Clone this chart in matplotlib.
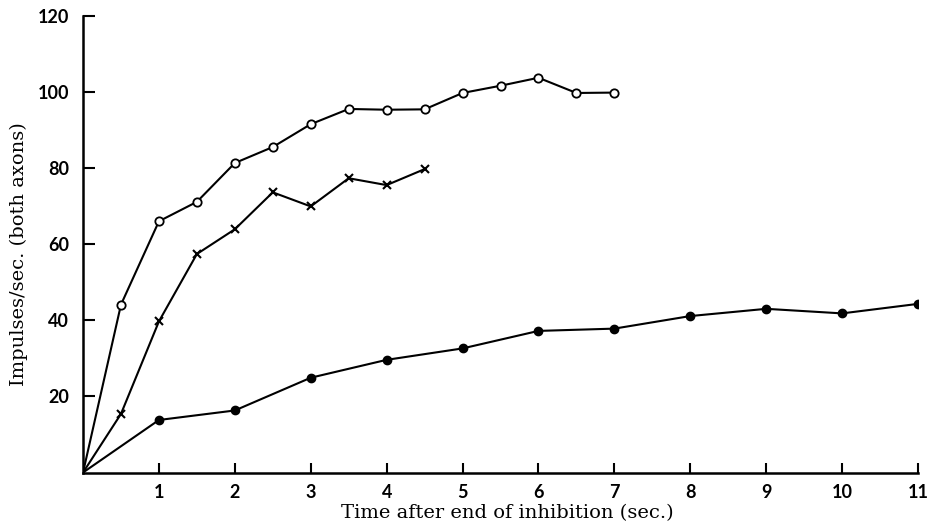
import matplotlib
matplotlib.use("Agg")
import matplotlib.pyplot as plt

# Time points (sec.) and firing rates (impulses/sec.) for the three runs
t_open = [0, 0.5, 1, 1.5, 2, 2.5, 3, 3.5, 4, 4.5, 5, 5.5, 6, 6.5, 7]
rate_open = [0, 44.1, 66.0, 71.1, 81.3, 85.5, 91.5, 95.5, 95.3, 95.4, 99.7, 101.6, 103.7, 99.7, 99.8]

t_cross = [0, 0.5, 1, 1.5, 2, 2.5, 3, 3.5, 4, 4.5]
rate_cross = [0, 15.4, 39.7, 57.4, 63.9, 73.6, 69.9, 77.3, 75.5, 79.7]

t_filled = [0, 1, 2, 3, 4, 5, 6, 7, 8, 9, 10, 11]
rate_filled = [0, 13.8, 16.3, 24.9, 29.6, 32.6, 37.2, 37.8, 41.1, 43.0, 41.8, 44.3]

x_ticks = [1, 2, 3, 4, 5, 6, 7, 8, 9, 10, 11]
y_ticks = [20, 40, 60, 80, 100, 120]

fig = plt.figure(figsize=(9.35, 5.32), dpi=100)
ax = fig.add_axes([0.0888, 0.1118, 0.8930, 0.8587])

lw = 1.5
# Lines first (from the origin), markers drawn on top excluding the origin point
ax.plot(t_open, rate_open, color="black", lw=lw, zorder=2)
ax.plot(t_open[1:], rate_open[1:], linestyle="none", marker="o", ms=6,
        mfc="white", mec="black", mew=1.3, zorder=3)

ax.plot(t_cross, rate_cross, color="black", lw=lw, zorder=2)
ax.plot(t_cross[1:], rate_cross[1:], linestyle="none", marker="x", ms=5.5,
        mec="black", mew=1.5, zorder=3)

ax.plot(t_filled, rate_filled, color="black", lw=lw, zorder=2)
ax.plot(t_filled[1:], rate_filled[1:], linestyle="none", marker="o", ms=6,
        mfc="black", mec="black", zorder=3)

ax.set_xlim(0, 11)
ax.set_ylim(0, 120)

for side in ("top", "right"):
    ax.spines[side].set_visible(False)
for side in ("left", "bottom"):
    ax.spines[side].set_linewidth(1.8)

ax.set_xticks(x_ticks)
ax.set_yticks(y_ticks)
ax.tick_params(axis="x", direction="in", length=7.5, width=1.5, pad=8)
ax.tick_params(axis="y", direction="in", length=8.5, width=1.5, pad=10)

tick_font = {"family": "Lato", "size": 13, "weight": "bold"}
ax.set_xticklabels([str(v) for v in x_ticks], fontdict=tick_font)
ax.set_yticklabels([str(v) for v in y_ticks], fontdict=tick_font)

label_font = {"family": "DejaVu Serif", "size": 14}
ax.set_xlabel("Time after end of inhibition (sec.)", fontdict=label_font)
ax.set_ylabel("Impulses/sec. (both axons)", fontdict=label_font)
ax.xaxis.set_label_coords(0.508, -0.068)
ax.yaxis.set_label_coords(-0.066, 0.478)

fig.savefig("out.png", dpi=100)
